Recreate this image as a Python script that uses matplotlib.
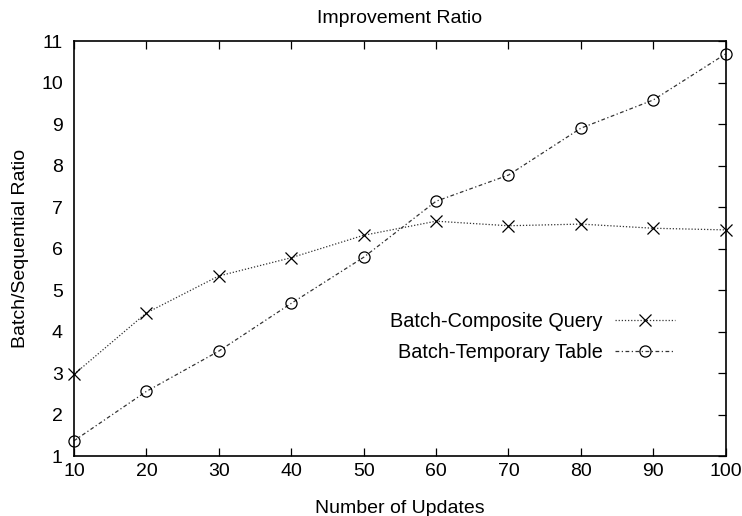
import matplotlib.pyplot as plt

plt.rcParams['font.family'] = ['Liberation Sans', 'DejaVu Sans']

updates = [10, 20, 30, 40, 50, 60, 70, 80, 90, 100]
composite = [2.97, 4.45, 5.34, 5.78, 6.32, 6.66, 6.55, 6.59, 6.49, 6.45]
temporary = [1.37, 2.56, 3.53, 4.68, 5.79, 7.14, 7.77, 8.90, 9.58, 10.69]

fig = plt.figure(figsize=(7.42, 5.16), dpi=100)
ax = fig.add_axes([0.0997, 0.116, 0.8783, 0.8045])

ax.plot(updates, composite, color='#333333', linestyle=(0, (1, 1.5)), linewidth=0.9,
        marker='x', markersize=8, markeredgewidth=0.9, markeredgecolor='black',
        label='Batch-Composite Query', clip_on=False)
ax.plot(updates, temporary, color='#333333', linestyle=(0, (3, 2, 1, 2)), linewidth=0.9,
        marker='o', markersize=8, markerfacecolor='none', markeredgewidth=0.9,
        markeredgecolor='black', label='Batch-Temporary Table', clip_on=False)

ax.set_xlim(10, 100)
ax.set_ylim(1, 11)
ax.set_xticks(updates)
ax.set_yticks(range(1, 12))
ax.tick_params(axis='both', direction='in', labelsize=14, length=6, width=0.9,
               top=True, right=True)
ax.tick_params(axis='x', pad=5)
ax.tick_params(axis='y', left=False, pad=8)
for s in ax.spines.values():
    s.set_linewidth(1.2)

ax.set_title('Improvement Ratio', fontsize=14, pad=13)
ax.set_xlabel('Number of Updates', fontsize=14, labelpad=14)
ax.set_ylabel('Batch/Sequential Ratio', fontsize=14, labelpad=9)

ax.legend(loc='center right', bbox_to_anchor=(0.922, 0.287), frameon=False,
          markerfirst=False, fontsize=14.3, handlelength=3.0, labelspacing=0.62,
          handletextpad=0.62, borderpad=0, borderaxespad=0)

fig.savefig('out.png', dpi=100)
